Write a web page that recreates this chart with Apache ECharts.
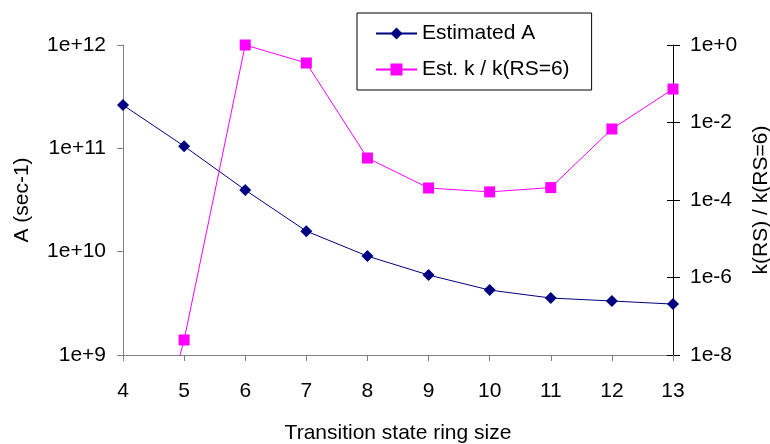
<!DOCTYPE html>
<html><head><meta charset="utf-8">
<script src="https://cdn.jsdelivr.net/npm/echarts@6/dist/echarts.min.js"></script>
<style>html,body{margin:0;padding:0;background:#fff}#c{width:770px;height:444px}</style>
</head><body><div id="c"></div>
<script>
const ringSizes = ['4','5','6','7','8','9','10','11','12','13'];
const estimatedA = [2.62e11, 1.05e11, 3.95e10, 1.58e10, 9.06e9, 5.94e9, 4.25e9, 3.56e9, 3.33e9, 3.11e9];
const kRatio = [4e-14, 2.44e-8, 1, 0.343, 1.21e-3, 2.04e-4, 1.62e-4, 2.09e-4, 6.8e-3, 7.3e-2];
const leftTickLabels = {9:'1e+9', 10:'1e+10', 11:'1e+11', 12:'1e+12'};
const rightTickLabels = {'-8':'1e-8', '-6':'1e-6', '-4':'1e-4', '-2':'1e-2', '0':'1e+0'};

const FONT = "'Liberation Sans', Arial, sans-serif";
const FS = 21;
const chart = echarts.init(document.getElementById('c'), null, {renderer:'canvas'});
const exp = v => Math.round(Math.log10(v));
chart.setOption({
  animation: false,
  backgroundColor: '#fff',
  textStyle: {fontFamily: FONT, color: '#000'},
  grid: {left: 123, right: 97, top: 45, bottom: 89, containLabel: false, outerBoundsMode: 'none'},
  legend: {
    left: 357, top: 13, orient: 'vertical',
    padding: [10, 22, 10, 18], itemGap: 15, itemWidth: 41, itemHeight: 15,
    borderColor: '#000', borderWidth: 1, backgroundColor: '#fff',
    textStyle: {fontFamily: FONT, fontSize: FS, color: '#000'},
    data: ['Estimated A', 'Est. k / k(RS=6)']
  },
  xAxis: {
    type: 'category', data: ringSizes, boundaryGap: false,
    name: 'Transition state ring size', nameLocation: 'middle', nameGap: 68,
    nameTextStyle: {fontFamily: FONT, fontSize: FS, color: '#000'},
    axisLine: {lineStyle: {color: '#808080', width: 1}},
    axisTick: {alignWithLabel: true, length: 6, lineStyle: {color: '#808080'}},
    axisLabel: {fontFamily: FONT, fontSize: FS, color: '#000', margin: 26},
    splitLine: {show: false}
  },
  yAxis: [{
    type: 'log', logBase: 10, min: 1e9, max: 1e12, position: 'left',
    name: 'A (sec-1)', nameLocation: 'middle', nameGap: 90,
    nameTextStyle: {fontFamily: FONT, fontSize: FS, color: '#000'},
    axisLine: {show: true, lineStyle: {color: '#808080', width: 1}},
    axisTick: {show: true, length: 6, lineStyle: {color: '#808080'}},
    axisLabel: {fontFamily: FONT, fontSize: FS, color: '#000', margin: 17,
      formatter: v => leftTickLabels[exp(v)] || ''},
    splitLine: {show: false}
  }, {
    type: 'log', logBase: 10, min: 1e-8, max: 1, interval: 2, position: 'right',
    name: 'k(RS) / k(RS=6)', nameLocation: 'middle', nameGap: 78,
    nameTextStyle: {fontFamily: FONT, fontSize: FS, color: '#000'},
    axisLine: {show: true, lineStyle: {color: '#000', width: 1}},
    axisTick: {show: true, length: 7, lineStyle: {color: '#000'}},
    axisLabel: {fontFamily: FONT, fontSize: FS, color: '#000', margin: 17,
      formatter: v => rightTickLabels[String(exp(v))] || ''},
    splitLine: {show: false}
  }, {
    type: 'log', logBase: 10, min: 1e-8, max: 1, interval: 2, position: 'right',
    axisLine: {show: false},
    axisTick: {show: true, inside: true, length: 6, lineStyle: {color: '#000'}},
    axisLabel: {show: false},
    splitLine: {show: false}
  }],
  series: [{
    name: 'Estimated A', type: 'line', yAxisIndex: 0, data: estimatedA,
    symbol: 'diamond', symbolSize: 12,
    lineStyle: {color: '#000080', width: 1},
    itemStyle: {color: '#000080'}, clip: true
  }, {
    name: 'Est. k / k(RS=6)', type: 'line', yAxisIndex: 1, data: kRatio,
    symbol: 'rect', symbolSize: 11,
    lineStyle: {color: '#ff00ff', width: 1},
    itemStyle: {color: '#ff00ff'}, clip: true
  }]
});
</script></body></html>
